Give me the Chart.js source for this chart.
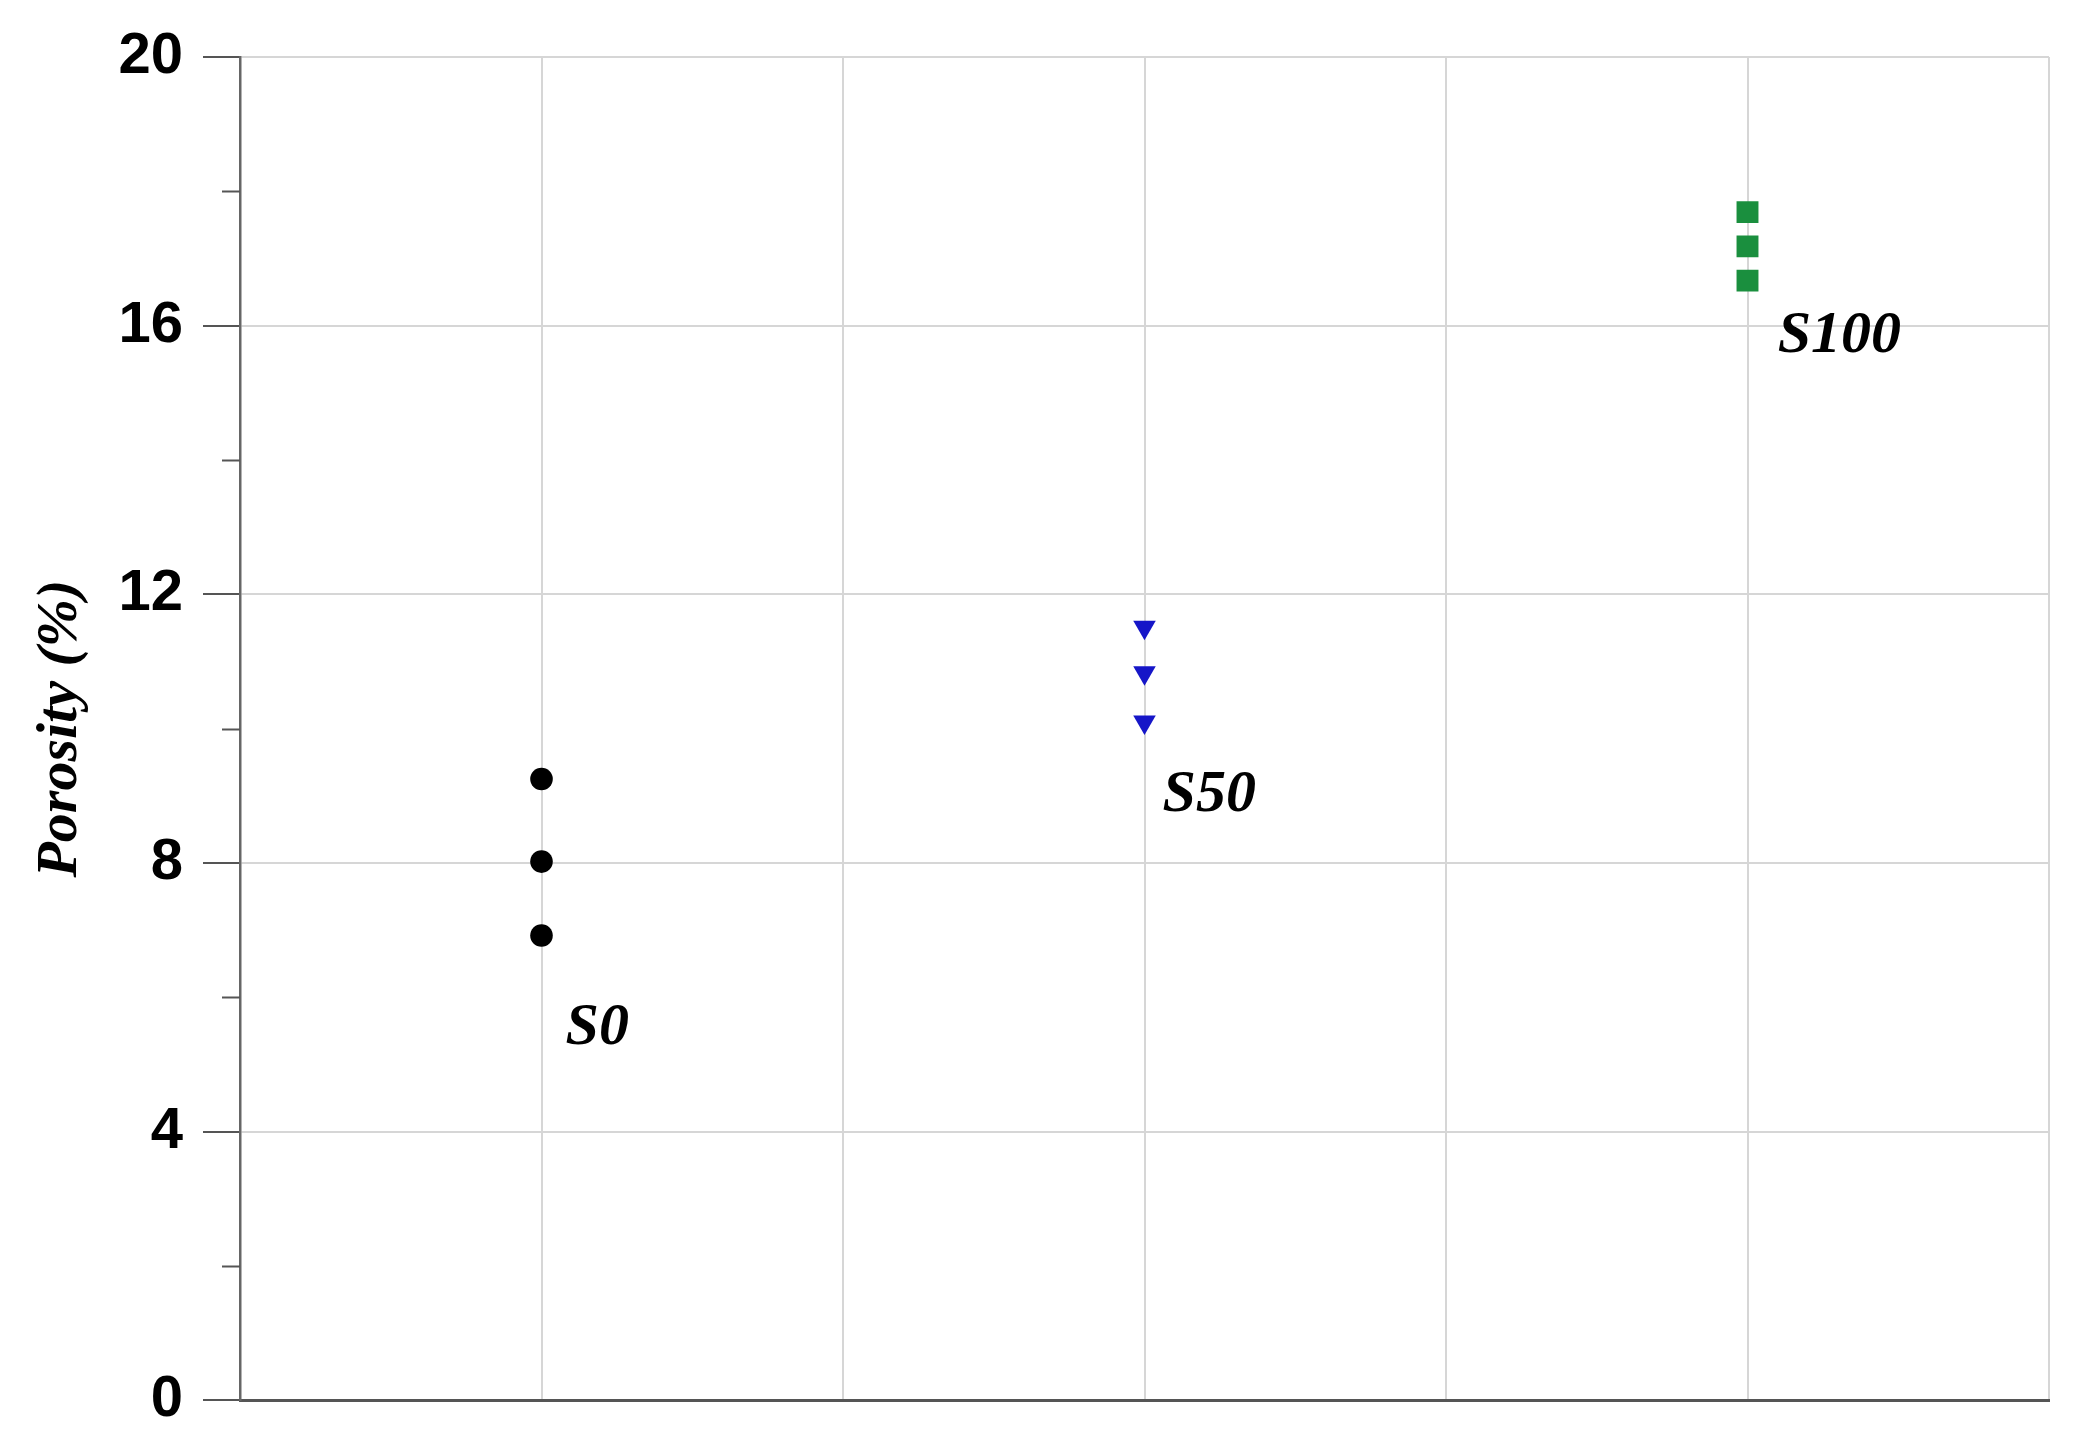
<!DOCTYPE html>
<html>
<head>
<meta charset="utf-8">
<script src="https://cdn.jsdelivr.net/npm/chart.js@4"></script>
<style>
  html, body { margin: 0; padding: 0; background: #fff; }
  #wrap { width: 2088px; height: 1455px; }
</style>
</head>
<body>
<div id="wrap"><canvas id="grafico" width="2088" height="1455"></canvas></div>
<script>
// datos
const categories = ["S0", "S50", "S100"];
const xPositions = [1, 3, 5];
const s0Values = [9.25, 8.02, 6.92];
const s50Values = [11.51, 10.83, 10.10];
const s100Values = [17.69, 17.18, 16.67];
const minorTicks = [2, 6, 10, 14, 18];
// posicion de las etiquetas en unidades de datos
const labelX = [1.08, 3.06, 5.10];
const labelY = [5.31, 8.78, 15.61];

const toPoints = (x, vals) => vals.map(v => ({ x: x, y: v }));

// marcas menores del eje y y etiquetas S0/S50/S100
const extras = {
  id: "extras",
  afterDraw(chart) {
    const { ctx, scales } = chart;
    const y = scales.y;
    ctx.save();
    ctx.strokeStyle = "#555";
    ctx.lineWidth = 2;
    minorTicks.forEach(v => {
      const py = Math.round(y.getPixelForValue(v)) + 0.5;
      ctx.beginPath();
      ctx.moveTo(y.right - 18, py);
      ctx.lineTo(y.right, py);
      ctx.stroke();
    });
    ctx.fillStyle = "#000";
    ctx.font = "italic bold 60px 'Liberation Serif'";
    ctx.textAlign = "left";
    ctx.textBaseline = "alphabetic";
    categories.forEach((c, i) => {
      ctx.fillText(c, scales.x.getPixelForValue(labelX[i]), y.getPixelForValue(labelY[i]));
    });
    ctx.restore();
  }
};

const ctx = document.getElementById("grafico").getContext("2d");

new Chart(ctx, {
  type: "scatter",
  data: {
    datasets: [
      {
        label: categories[0],
        data: toPoints(xPositions[0], s0Values),
        pointStyle: "circle",
        pointRadius: 11.3,
        backgroundColor: "#000",
        borderColor: "#000",
        borderWidth: 0
      },
      {
        label: categories[1],
        data: toPoints(xPositions[1], s50Values),
        pointStyle: "triangle",
        rotation: 180,
        pointRadius: 13,
        backgroundColor: "#1616c8",
        borderColor: "#1616c8",
        borderWidth: 0
      },
      {
        label: categories[2],
        data: toPoints(xPositions[2], s100Values),
        pointStyle: "rect",
        pointRadius: 15.5,
        backgroundColor: "#1a8f3e",
        borderColor: "#1a8f3e",
        borderWidth: 0
      }
    ]
  },
  options: {
    responsive: false,
    animation: false,
    devicePixelRatio: 1,
    layout: { padding: { left: 0, top: 57, right: 39, bottom: 50 } },
    plugins: {
      legend: { display: false },
      tooltip: { enabled: false }
    },
    scales: {
      x: {
        type: "linear",
        min: 0,
        max: 6,
        ticks: { display: false, stepSize: 1 },
        grid: {
          drawTicks: false,
          lineWidth: 2,
          color: c => (c.tick && c.tick.value === 0 ? "rgba(0,0,0,0)" : "#d6d6d6")
        },
        border: { color: "#555", width: 3 },
        afterFit: s => { s.height = 0; }
      },
      y: {
        min: 0,
        max: 20,
        ticks: {
          stepSize: 4,
          padding: 20,
          color: "#000",
          font: { family: "'Liberation Sans'", size: 58, weight: "bold" }
        },
        grid: {
          tickLength: 37,
          tickColor: "#555",
          tickWidth: 2,
          lineWidth: 2,
          color: c => (c.tick && c.tick.value === 0 ? "rgba(0,0,0,0)" : "#d6d6d6")
        },
        border: { color: "#666", width: 2.5 },
        title: {
          display: true,
          text: "Porosity (%)",
          color: "#000",
          padding: { top: 26, bottom: 0 },
          font: { family: "'Liberation Serif'", size: 58, style: "italic", weight: "bold" }
        },
        afterFit: s => { s.width = 240; }
      }
    }
  },
  plugins: [extras]
});
</script>
</body>
</html>
